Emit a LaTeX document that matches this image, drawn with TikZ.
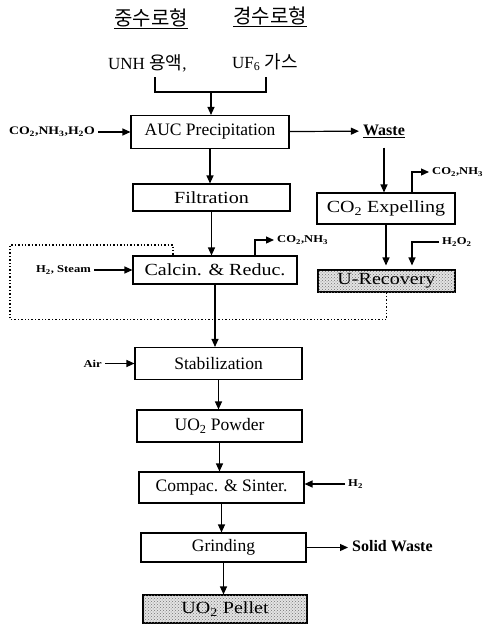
\documentclass[tikz,border=0pt]{standalone}
\usepackage{fontspec}
\setmainfont{Liberation Serif}
\newfontfamily\krfont{Noto Sans CJK KR}
\newfontfamily\lblfont{Liberation Serif}[FakeStretch=1.2]
\newfontfamily\wideserif{Liberation Serif}[FakeStretch=1.18]
\usetikzlibrary{arrows.meta,positioning,patterns}
\tikzset{
  >={Triangle[length=8pt,width=7pt]},
  proc/.style={draw,line width=1.1pt,minimum width=164pt,minimum height=29pt,inner sep=1pt,font=\fontsize{17.5}{19}\selectfont},
  wproc/.style={proc,font=\wideserif\fontsize{17}{19}\selectfont},
  prod/.style={wproc,fill=gray!22,postaction={pattern=crosshatch dots,pattern color=black!55}},
  big/.style={font=\fontsize{17}{19}\selectfont,inner sep=1pt},
  bold/.style={font=\bfseries\fontsize{16}{18}\selectfont,inner sep=4pt},
  kr/.style={font=\krfont\fontsize{20}{22}\selectfont,inner sep=1pt},
  lbl/.style={font=\lblfont\bfseries\fontsize{10.5}{12}\selectfont,inner sep=3pt},
  ptr/.style={->,line width=1.2pt},
  recyc/.style={line width=1.4pt,dotted},
}
\begin{document}
\begin{tikzpicture}[x=1pt,y=-1pt]
  \useasboundingbox (0,0) rectangle (486,624);
  \node[kr] (hwr) at (151,19) {\underline{중수로형}};
  \node[kr] (lwr) at (270,17) {\underline{경수로형}};
  \node[big,anchor=west] (unh) at (107,63) {UNH {\krfont\fontsize{18}{20}\selectfont 용액},};
  \node[big,anchor=west] (uf) at (231,62) {UF\textsubscript{6} {\krfont\fontsize{18}{20}\selectfont 가스}};
  \coordinate (brl) at (155,77);
  \coordinate (brr) at (266,77);
  \coordinate (brm) at (211,92);
  \draw[line width=1.1pt] (brl) |- (brm) -| (brr);

  \node[proc,minimum width=158pt,minimum height=33pt] (auc) at (210,132) {AUC Precipitation};
  \node[wproc,minimum width=157pt,minimum height=27pt] (filt) at (211.5,197.5) {Filtration};
  \node[wproc,minimum height=28pt] (calc) at (215,270) {Calcin. \& Reduc.};
  \node[proc,minimum width=167pt,minimum height=32pt] (stab) at (218.5,363.5) {Stabilization};
  \node[proc,minimum width=165pt,minimum height=32pt] (pow) at (219.5,426) {UO\textsubscript{2} Powder};
  \node[proc,minimum width=165pt,minimum height=31pt] (comp) at (221.5,487.5) {Compac. \& Sinter.};
  \node[proc,minimum width=165pt,minimum height=29pt] (grind) at (223.5,547.5) {Grinding};
  \node[prod,minimum height=28pt] (pel) at (225,609) {UO\textsubscript{2} Pellet};
  \node[wproc,minimum width=138pt,minimum height=31pt] (coexp) at (386,208.5) {CO\textsubscript{2} Expelling};
  \node[prod,minimum width=137pt,minimum height=22pt] (urec) at (386.5,281) {U-Recovery};

  \node[lbl,anchor=east,font=\lblfont\bfseries\fontsize{11.5}{13}\selectfont] (in1) at (98,132) {CO\textsubscript{2},NH\textsubscript{3},H\textsubscript{2}O};
  \node[bold] (waste) at (384,131) {\underline{Waste}};
  \node[lbl,anchor=west] (co1) at (429,172) {CO\textsubscript{2},NH\textsubscript{3}};
  \node[lbl,anchor=west] (co2) at (274,240) {CO\textsubscript{2},NH\textsubscript{3}};
  \node[lbl,anchor=east] (hst) at (94,270) {H\textsubscript{2}, Steam};
  \node[lbl,anchor=west] (h2o2) at (439,242) {H\textsubscript{2}O\textsubscript{2}};
  \node[lbl,anchor=east] (air) at (105,363.5) {Air};
  \node[lbl,anchor=west] (h2) at (345,484) {H\textsubscript{2}};
  \node[bold,anchor=west] (sw) at (348,546) {Solid Waste};
  \coordinate (t1) at (412,0);
  \coordinate (t2) at (255,0);
  \coordinate (t3) at (412,0);
  \coordinate (t4) at (173,0);
  \coordinate (lp) at (10,245);

  \draw[ptr] (brm) -- (brm |- auc.north);
  \draw[ptr] (in1) -- (auc);
  \draw[ptr] (auc) -- (waste);
  \draw[ptr,shorten <=6pt] (waste.south) -- (waste.south |- coexp.north);
  \draw[ptr] (t1 |- coexp.north) |- (co1.west);
  \draw[ptr] (auc.south) -- (auc.south |- filt.north);
  \draw[ptr] (filt.south) -- (filt.south |- calc.north);
  \draw[ptr] (t2 |- calc.north) |- (co2.west);
  \draw[ptr] (hst) -- (calc);
  \draw[ptr,shorten >=4pt] (coexp.south) -- (coexp.south |- urec.north);
  \draw[ptr,shorten >=4pt] (h2o2.west) -| (t3 |- urec.north);
  \draw[recyc] (urec.south) -- ++(0,27) -| (lp) -| (t4 |- calc.north);
  \draw[ptr] (calc.south) -- (calc.south |- stab.north);
  \draw[ptr] (air) -- (stab);
  \draw[ptr] (stab.south) -- (stab.south |- pow.north);
  \draw[ptr] (pow.south) -- (pow.south |- comp.north);
  \draw[ptr] (h2.west) -- (h2.west -| comp.east);
  \draw[ptr] (comp.south) -- (comp.south |- grind.north);
  \draw[ptr] (grind.east) -- (grind.east -| sw.west);
  \draw[ptr] (grind.south) -- (grind.south |- pel.north);
\end{tikzpicture}
\end{document}
